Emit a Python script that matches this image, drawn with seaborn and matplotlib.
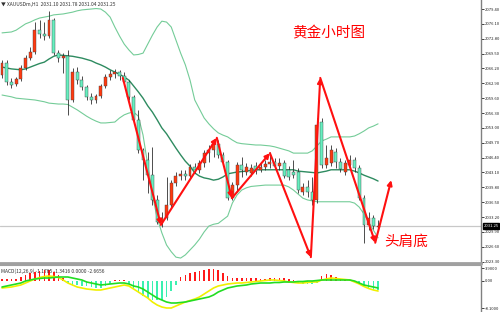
import numpy as np
import matplotlib
matplotlib.use("Agg")
import matplotlib.pyplot as plt
import seaborn as sns

# ---------------- data ----------------
opens = [2064.8, 2067.4, 2063.2, 2062.8, 2063.9, 2066.3, 2068.5, 2069.9, 2074.7, 2073.9,
         2073.4, 2077.0, 2069.6, 2068.5, 2069.0, 2059.2, 2065.4, 2063.6, 2062.1, 2059.9,
         2059.2, 2060.1, 2062.3, 2064.3, 2065.0, 2065.4, 2064.5, 2063.2, 2059.9, 2054.8,
         2048.1, 2045.9, 2042.5, 2037.0, 2032.1, 2033.0, 2035.9, 2040.8, 2042.3, 2042.8,
         2042.3, 2044.3, 2043.7, 2045.2, 2047.4, 2048.1, 2049.4, 2047.0, 2045.4, 2037.4,
         2040.3, 2044.8, 2043.2, 2043.0, 2044.5, 2043.7, 2044.3, 2045.0, 2045.4, 2044.5,
         2045.2, 2043.7, 2043.2, 2043.2, 2038.8, 2039.9, 2038.8, 2037.0, 2054.3, 2044.8,
         2045.2, 2047.7, 2045.4, 2043.2, 2044.8, 2045.9, 2044.1, 2037.4, 2031.5, 2033.0,
         2031.0]
closes = [2067.4, 2063.2, 2062.5, 2063.9, 2066.3, 2068.5, 2069.9, 2074.7, 2073.9, 2073.4,
          2077.0, 2069.6, 2068.5, 2069.0, 2059.2, 2065.4, 2063.6, 2062.1, 2059.9, 2059.2,
          2060.1, 2062.3, 2064.3, 2065.0, 2065.4, 2064.5, 2063.2, 2059.9, 2054.8, 2048.1,
          2045.9, 2042.5, 2037.0, 2032.1, 2033.0, 2035.9, 2040.8, 2042.3, 2042.8, 2042.3,
          2044.3, 2043.7, 2045.2, 2047.4, 2048.1, 2049.4, 2047.0, 2045.4, 2037.4, 2040.3,
          2044.8, 2043.7, 2044.3, 2044.1, 2043.4, 2044.3, 2045.0, 2045.4, 2044.5, 2045.2,
          2042.3, 2042.1, 2042.5, 2039.2, 2039.9, 2038.8, 2037.0, 2053.7, 2044.8, 2046.3,
          2048.1, 2045.4, 2043.9, 2045.2, 2045.9, 2044.1, 2037.4, 2031.45, 2033.0, 2031.2,
          2031.25]
highs = [2068.1, 2068.1, 2064.1, 2064.3, 2067.0, 2069.2, 2071.0, 2076.5, 2077.0, 2076.5,
         2079.0, 2077.4, 2070.3, 2069.6, 2070.3, 2066.3, 2066.5, 2064.5, 2062.5, 2060.8,
         2060.5, 2062.8, 2065.0, 2065.9, 2066.1, 2065.9, 2065.4, 2063.6, 2060.3, 2057.0,
         2048.5, 2047.7, 2048.8, 2038.1, 2034.3, 2042.1, 2041.4, 2043.2, 2043.7, 2043.7,
         2045.0, 2045.2, 2045.9, 2048.1, 2049.2, 2050.3, 2050.3, 2047.7, 2045.9, 2041.0,
         2045.4, 2046.5, 2045.2, 2045.0, 2045.4, 2045.2, 2045.9, 2047.7, 2046.3, 2046.3,
         2045.9, 2044.5, 2045.9, 2044.1, 2040.8, 2041.4, 2042.1, 2055.2, 2055.2, 2049.2,
         2049.2, 2048.5, 2046.3, 2045.9, 2047.0, 2046.5, 2044.8, 2038.1, 2034.3, 2033.7,
         2032.6]
lows = [2064.1, 2062.5, 2061.9, 2062.3, 2063.4, 2065.9, 2068.1, 2069.4, 2073.0, 2072.5,
        2073.0, 2069.2, 2067.6, 2065.2, 2055.9, 2058.8, 2062.8, 2061.4, 2059.2, 2058.3,
        2058.5, 2059.6, 2061.9, 2063.6, 2064.1, 2063.6, 2062.5, 2059.2, 2054.1, 2047.4,
        2041.4, 2038.6, 2035.9, 2031.7, 2031.0, 2032.6, 2035.2, 2040.1, 2041.4, 2041.4,
        2041.9, 2043.0, 2043.0, 2044.3, 2045.4, 2046.5, 2046.3, 2044.8, 2037.0, 2037.0,
        2038.8, 2042.1, 2042.5, 2042.3, 2042.8, 2043.2, 2043.7, 2044.1, 2043.9, 2043.7,
        2041.9, 2041.4, 2041.9, 2038.6, 2038.1, 2037.7, 2035.9, 2036.3, 2044.1, 2044.1,
        2044.5, 2044.1, 2043.2, 2042.5, 2044.1, 2043.2, 2037.0, 2027.5, 2030.3, 2030.6,
        2030.8]
mid_band = [2066.5, 2066.3, 2066.1, 2066.0, 2065.9, 2066.1, 2066.5, 2066.9, 2067.3, 2067.6,
            2068.3, 2068.9, 2069.2, 2069.1, 2069.0, 2068.9, 2068.7, 2068.5, 2068.2, 2067.9,
            2067.4, 2067.0, 2066.5, 2065.9, 2065.4, 2064.9, 2064.3, 2063.6, 2062.3, 2061.0,
            2059.6, 2057.9, 2056.5, 2054.8, 2053.0, 2051.7, 2050.1, 2048.5, 2047.0, 2045.6,
            2044.5, 2043.0, 2042.3, 2041.9, 2041.7, 2041.4, 2041.6, 2042.1, 2042.8, 2043.0,
            2043.2, 2043.3, 2043.4, 2043.6, 2043.7, 2043.7, 2043.7, 2043.7, 2043.7, 2043.7,
            2043.7, 2043.7, 2043.7, 2043.4, 2043.3, 2043.2, 2043.1, 2043.0, 2043.2, 2043.4,
            2043.7, 2043.7, 2043.7, 2043.7, 2043.7, 2043.4, 2043.0, 2042.5, 2042.1, 2041.7,
            2041.2]
upper_band = [2074.1, 2074.2, 2074.3, 2074.7, 2075.4, 2076.1, 2076.5, 2077.0, 2077.4, 2077.6,
              2077.8, 2078.1, 2078.2, 2078.3, 2078.5, 2078.7, 2079.0, 2079.2, 2079.3, 2079.4,
              2079.5, 2079.4, 2078.7, 2077.6, 2075.4, 2073.4, 2071.6, 2070.3, 2069.2, 2069.3,
              2069.6, 2071.6, 2073.6, 2075.4, 2076.7, 2076.5, 2075.4, 2072.5, 2069.6, 2067.0,
              2063.6, 2059.2, 2057.2, 2055.2, 2053.9, 2052.8, 2051.9, 2051.4, 2051.0, 2050.3,
              2049.7, 2049.5, 2049.4, 2049.3, 2049.2, 2049.2, 2049.1, 2049.0, 2048.8, 2048.5,
              2048.2, 2047.9, 2047.4, 2047.4, 2047.4, 2047.4, 2047.9, 2049.0, 2050.1, 2050.5,
              2051.0, 2051.0, 2051.0, 2051.0, 2051.0, 2051.2, 2051.7, 2052.3, 2053.0, 2053.4,
              2053.9]
lower_band = [2060.3, 2060.1, 2059.9, 2059.6, 2059.5, 2059.4, 2059.3, 2059.2, 2059.0, 2058.8,
              2058.5, 2058.4, 2058.3, 2058.3, 2058.2, 2057.6, 2057.0, 2056.3, 2055.6, 2055.0,
              2054.5, 2054.1, 2054.1, 2054.2, 2054.3, 2055.2, 2055.9, 2056.3, 2056.5, 2055.6,
              2051.4, 2044.8, 2038.1, 2033.0, 2029.7, 2027.0, 2025.5, 2024.3, 2024.1, 2024.8,
              2025.9, 2027.0, 2028.3, 2029.9, 2031.2, 2031.6, 2031.8, 2032.6, 2033.4, 2036.3,
              2038.1, 2039.2, 2039.7, 2040.0, 2040.1, 2040.2, 2040.3, 2040.3, 2040.3, 2040.3,
              2040.3, 2039.9, 2039.2, 2038.3, 2037.4, 2037.0, 2036.8, 2036.6, 2036.6, 2036.6,
              2036.6, 2036.6, 2036.6, 2036.6, 2036.6, 2036.3, 2035.4, 2033.9, 2032.1, 2030.3,
              2028.6]
macd_hist = [0.6, 0.6, 0.6, 0.6, 1.2, 1.8, 2.4, 2.7, 3.0, 3.3,
             3.3, 2.7, 1.8, 0.9, -0.6, -1.2, -1.2, -1.5, -1.5, -1.8,
             -2.1, -2.1, -1.5, -0.9, 0.3, 0.45, 0.3, -0.9, -2.4, -3.6,
             -4.5, -5.1, -5.7, -5.7, -5.7, -4.8, -3.0, -1.2, 1.2, 1.8,
             2.4, 2.7, 3.0, 3.3, 3.6, 3.6, 3.3, 2.4, 1.5, 0.9,
             0.9, 0.9, 0.9, 0.9, 0.9, 0.75, 0.75, 0.9, 0.9, 0.9,
             0.9, 0.6, 0.3, -0.6, -0.9, -0.9, -0.9, -0.6, 1.5, 2.1,
             1.8, 1.2, 0.6, 0.3, 0.3, -0.3, -0.9, -1.8, -2.4, -2.7,
             -2.7]
macd_green = [-1.8, -1.5, -1.2, -0.9, -0.6, 0.0, 0.3, 0.6, 0.75, 0.9,
              0.9, 1.05, 1.2, 1.2, 1.2, 0.9, 0.6, 0.3, -0.3, -0.6,
              -0.9, -1.2, -1.05, -0.9, -0.75, -0.6, -0.6, -0.9, -1.5, -1.8,
              -2.4, -3.3, -4.2, -5.1, -5.7, -6.3, -6.6, -6.6, -6.45, -6.3,
              -6.0, -5.7, -5.4, -5.1, -4.8, -4.2, -3.3, -2.7, -2.1, -1.8,
              -1.5, -1.35, -1.2, -0.9, -0.75, -0.6, -0.6, -0.6, -0.45, -0.45,
              -0.3, -0.3, -0.3, -0.15, -0.15, 0.0, 0.0, 0.15, 0.3, 0.3,
              0.3, 0.3, 0.3, 0.3, 0.3, 0.0, -0.6, -1.2, -1.5, -1.8,
              -2.1]
macd_yellow = [-2.1, -1.95, -1.8, -1.5, -1.2, -0.6, 0.0, 0.6, 1.05, 1.35,
               1.5, 1.35, 1.05, 0.3, -0.6, -1.2, -1.8, -2.1, -2.4, -2.55,
               -2.7, -2.7, -2.4, -2.1, -1.8, -1.5, -1.2, -1.5, -2.4, -3.3,
               -4.2, -5.1, -6.3, -7.2, -7.8, -8.1, -8.1, -7.5, -6.9, -6.3,
               -5.85, -5.4, -4.8, -3.9, -3.0, -2.1, -1.5, -1.2, -0.9, -0.75,
               -0.6, -0.6, -0.45, -0.3, -0.15, 0.0, 0.15, 0.3, 0.3, 0.15,
               0.0, -0.3, -0.45, -0.6, -0.6, -0.45, -0.3, -0.3, 0.3, 0.6,
               0.9, 0.75, 0.6, 0.45, 0.3, -0.3, -0.9, -1.65, -2.25, -2.7,
               -3.0]
# hand-drawn head-and-shoulders pattern (bar index, price)
pattern_idx = [25.7, 33.8, 45.7, 48.9, 57.0, 65.7, 67.7, 79.4, 82.8]
pattern_price = [2064.1, 2031.45, 2050.8, 2037.4, 2047.4, 2024.3, 2064.1, 2027.5, 2041.4]
price_ticks = [2079.40, 2076.10, 2072.80, 2069.50, 2066.20, 2062.90, 2059.60, 2056.30, 2053.00,
               2049.70, 2046.40, 2043.10, 2039.80, 2036.50, 2033.20, 2029.90, 2026.60, 2023.30]
macd_ticks = [3.9, 0.0, -8.1]
macd_tick_labels = ["3.9000", "0.00", "-8.1000"]
last_price = 2031.25
title_text = "黄金小时图"
pattern_text = "头肩底"
header_text = "▼ XAUUSDm,H1  2031.10 2031.78 2031.04 2031.25"
macd_header = "MACD(12,26,9) -1.1765 -1.3416 0.0000 -2.6656"

# ---------------- style ----------------
sns.set_style("white")
plt.rcParams["font.family"] = ["Noto Sans CJK SC", "DejaVu Sans"]

fig = plt.figure(figsize=(5.0, 3.12), dpi=100)
ax = fig.add_axes([0, 49 / 312, 481 / 500, 263 / 312])
ax2 = fig.add_axes([0, 0, 481 / 500, 47 / 312])

idx = np.arange(len(opens))
o = np.array(opens); c = np.array(closes)
h = np.array(highs); l = np.array(lows)
up = c >= o
body_col = np.where(up, "#ff3a10", "#66f0c0")

# Bollinger bands
sns.lineplot(x=idx, y=upper_band, ax=ax, color="#74cc98", lw=0.8, zorder=1)
sns.lineplot(x=idx, y=lower_band, ax=ax, color="#74cc98", lw=0.8, zorder=1)
sns.lineplot(x=idx, y=mid_band, ax=ax, color="#2e8b60", lw=1.0, zorder=1)

# current price line
ax.axhline(last_price, color="#c8c8c8", lw=0.9, zorder=0)

# candles
ax.vlines(idx, l, h, color="#303030", lw=0.6, zorder=2)
ax.bar(idx, np.maximum(np.abs(c - o), 0.15), bottom=np.minimum(o, c), width=0.62,
       color=body_col, edgecolor="#404040", linewidth=0.3, zorder=3)

# pattern arrows
for k in range(len(pattern_idx) - 1):
    ax.annotate("", xy=(pattern_idx[k + 1], pattern_price[k + 1]),
                xytext=(pattern_idx[k], pattern_price[k]),
                arrowprops=dict(arrowstyle="-|>", color="#ff1010", lw=1.5,
                                mutation_scale=7, shrinkA=0, shrinkB=0),
                zorder=6)

ax.set_xlim(-0.43, 101.9)
ax.set_ylim(2023.0, 2081.4)
ax.set_xticks([])
ax.yaxis.tick_right()
ax.set_yticks(price_ticks)
ax.set_yticklabels([f"{t:.2f}" for t in price_ticks])
ax.tick_params(axis="y", direction="out", length=2, width=0.6, pad=0.8,
               labelsize=3.0, colors="#202020", right=True, left=False)
for s in ["left", "top"]:
    ax.spines[s].set_visible(False)
ax.spines["right"].set_color("#808080"); ax.spines["right"].set_linewidth(1.0)
ax.spines["bottom"].set_color("#a0a0a0"); ax.spines["bottom"].set_linewidth(2.0)
ax.set_xlabel(""); ax.set_ylabel("")

ax.text(1.005, last_price, f"{last_price:.2f}", transform=ax.get_yaxis_transform(),
        fontsize=3.0, color="white", va="center", ha="left",
        bbox=dict(boxstyle="square,pad=0.2", fc="black", ec="black"), zorder=10)

fig.text(329 / 500, 1 - 33 / 312, title_text, fontsize=10.5, color="#ff0000",
         ha="center", va="center", fontweight="medium")
fig.text(406 / 500, 1 - 242 / 312, pattern_text, fontsize=10.5, color="#ff0000",
         ha="center", va="center", fontweight="medium")
fig.text(1 / 500, 1 - 4 / 312, header_text, fontsize=3.5, color="#303030",
         ha="left", va="center")

# ---------------- MACD panel ----------------
hist = np.array(macd_hist)
ax2.bar(idx, hist, width=0.35, color=np.where(hist >= 0, "#ff1a1a", "#3cf0b0"),
        linewidth=0, zorder=1)
sns.lineplot(x=idx, y=macd_yellow, ax=ax2, color="#f0f000", lw=1.2, zorder=2)
sns.lineplot(x=idx, y=macd_green, ax=ax2, color="#22dd22", lw=1.2, zorder=3)
ax2.set_xlim(-0.43, 101.9)
ax2.set_ylim(-9.3, 4.8)
ax2.set_xticks([])
ax2.yaxis.tick_right()
ax2.set_yticks(macd_ticks)
ax2.set_yticklabels(macd_tick_labels)
ax2.tick_params(axis="y", direction="out", length=2, width=0.6, pad=0.8,
                labelsize=3.0, colors="#202020", right=True, left=False)
for s in ["left", "bottom"]:
    ax2.spines[s].set_visible(False)
ax2.spines["right"].set_color("#808080"); ax2.spines["right"].set_linewidth(1.0)
ax2.spines["top"].set_color("#a0a0a0"); ax2.spines["top"].set_linewidth(1.5)
ax2.set_xlabel(""); ax2.set_ylabel("")
ax2.text(0.002, 0.93, macd_header, transform=ax2.transAxes, fontsize=3.5,
         color="#303030", ha="left", va="top")

fig.savefig("out.png", dpi=100)
